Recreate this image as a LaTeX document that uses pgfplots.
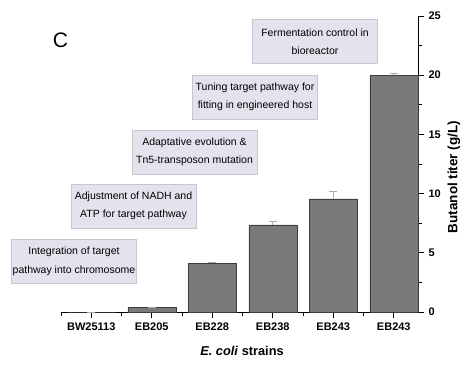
\documentclass[border=0pt]{standalone}
\usepackage{pgfplots}
\pgfplotsset{compat=1.18}
\usepackage{fontspec}
\setmainfont{Liberation Sans}
\definecolor{barfill}{RGB}{122,122,122}
\definecolor{bardraw}{RGB}{60,60,60}
\definecolor{lav}{RGB}{229,226,238}
\definecolor{lavdraw}{RGB}{200,196,212}
\definecolor{errc}{RGB}{170,170,170}
\begin{document}
\begin{tikzpicture}[x=1pt,y=1pt]
\path[use as bounding box] (0,0) rectangle (472,368);
\begin{axis}[
  at={(61pt,56pt)}, anchor=south west,
  scale only axis, width=357pt, height=296pt,
  xmin=-0.5, xmax=5.4, ymin=0, ymax=25,
  axis x line*=bottom, axis y line*=right,
  axis line style={line width=0.8pt},
  tick align=outside,
  xtick={0,1,2,3,4,5},
  xticklabels={BW25113,EB205,EB228,EB238,EB243,EB243},
  minor xtick={-0.5,0.5,1.5,2.5,3.5,4.5},
  ytick={0,5,10,15,20,25},
  minor ytick={2.5,7.5,12.5,17.5,22.5},
  major tick length=6pt, minor tick length=4pt,
  tick style={line width=0.8pt, black},
  /pgf/number format/assume math mode=true,
  tick label style={font=\bfseries\fontsize{11}{13}\selectfont},
  xticklabel style={yshift=-1pt},
  yticklabel style={xshift=1pt},
  clip=false,
]
\addplot[ybar, bar width=48pt, fill=barfill, draw=bardraw, line width=0.5pt,
  error bars/.cd, y dir=plus, y explicit,
  error bar style={errc, line width=0.7pt},
  error mark options={errc, line width=0.7pt, mark size=4pt, rotate=90}]
  coordinates {
  (0,0) +- (0,0)
  (1,0.4) +- (0,0.02)
  (2,4.12) +- (0,0.08)
  (3,7.35) +- (0,0.3)
  (4,9.55) +- (0,0.65)
  (5,20.0) +- (0,0.18)
  };
\end{axis}
\node[font=\fontsize{21}{24}\selectfont] at (60.5,328) {C};
\node[rotate=90, font=\bfseries\fontsize{13.5}{16}\selectfont] at (454,191) {Butanol titer (g/L)};
\node[font=\bfseries\fontsize{12.8}{15}\selectfont] at (242,17) {\textit{E. coli} strains};
\tikzset{ann/.style={draw=lavdraw, fill=lav, line width=0.6pt, minimum width=125pt, minimum height=44pt, inner sep=0pt, align=center, font=\fontsize{10.5}{18.5}\selectfont}}
\node[ann] at (74,106.5) {Integration of target\\pathway into chromosome};
\node[ann] at (133.5,162) {Adjustment of NADH and\\ATP for target pathway};
\node[ann] at (194.5,216) {Adaptative evolution \&\\Tn5-transposon mutation};
\node[ann] at (255,271) {Tuning target pathway for\\fitting in engineered host};
\node[ann] at (315,326.5) {Fermentation control in\\bioreactor};
\end{tikzpicture}
\end{document}
